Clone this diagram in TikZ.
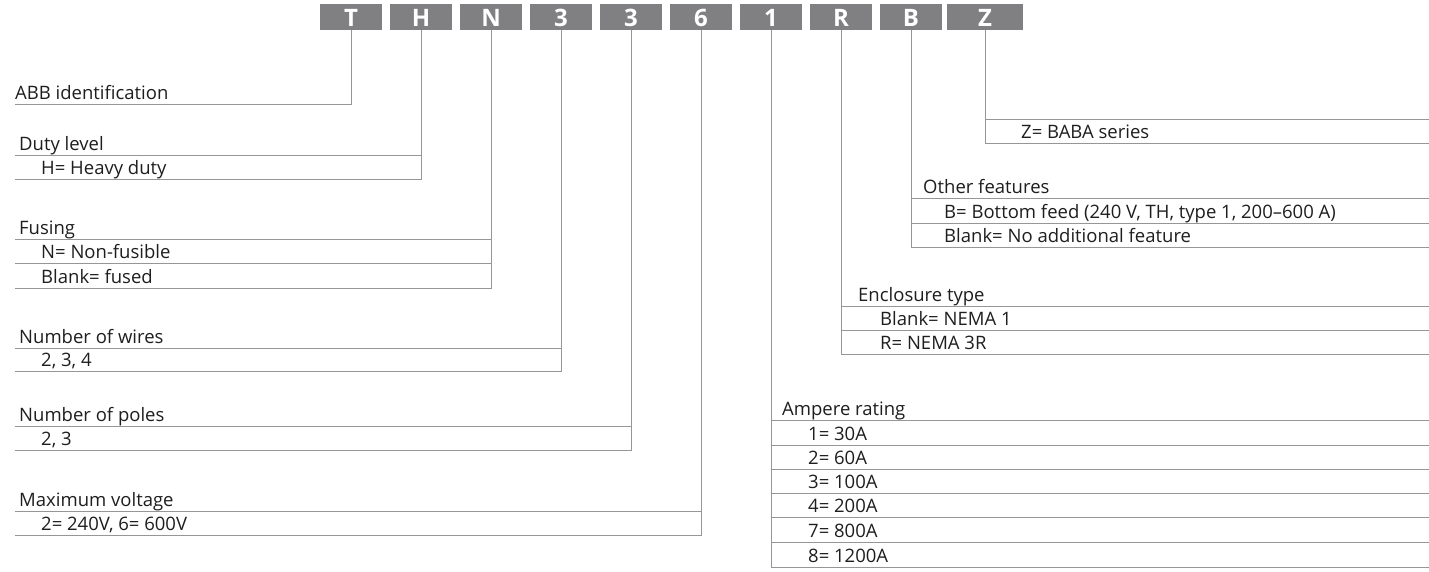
\documentclass[tikz,border=0pt]{standalone}
\usepackage{fontspec}
\setmainfont{Open Sans}
\definecolor{codegray}{RGB}{128,128,131}
\definecolor{rulegray}{RGB}{150,150,150}
\definecolor{inkgray}{RGB}{30,30,30}
\tikzset{
  code-box/.style={
    fill=codegray, text=white,
    font=\bfseries\fontsize{24}{24}\selectfont,
    minimum width=62pt, minimum height=26pt, inner sep=0pt,
    text height=20pt, text depth=0pt
  },
  code-rule/.style={draw=rulegray, line width=1pt},
  row-text/.style={
    anchor=base west, inner sep=0pt, text=inkgray,
    font=\fontsize{18.5}{18.5}\selectfont
  }
}

\begin{document}
\begin{tikzpicture}[x=1pt, y=-1pt]
  \useasboundingbox (0,0) rectangle (1429,571);
  % code letters
  \foreach \name/\ch/\x in {cT/T/351, cH/H/421, cN/N/491, cW/3/561, cP/3/631,
                            cV/6/701, cA/1/771, cR/R/841, cB/B/911} {
    \node[code-box] (\name) at (\x,16.5) {\ch};
  }
  \node[code-box, minimum width=76pt] (cZ) at (985,16.5) {Z};

  % left side: rows run from x=15 to the stem
  \coordinate (abb-end) at (15,104);
  \draw[code-rule] (cT.south) |- (abb-end);
  \node[row-text] (abb-head) at (15,99.5) {ABB identification};

  \coordinate (duty-end) at (15,179);
  \draw[code-rule] (cH.south) |- (duty-end);
  \draw[code-rule] (15,155) -- (15,155 -| cH.south);
  \node[row-text] (duty-head) at (19,150.5) {Duty level};
  \node[row-text] (duty-h) at (41,174.5) {H= Heavy duty};

  \coordinate (fuse-end) at (15,288);
  \draw[code-rule] (cN.south) |- (fuse-end);
  \foreach \y in {239,263} \draw[code-rule] (15,\y) -- (15,\y -| cN.south);
  \node[row-text] (fuse-head) at (19,234.5) {Fusing};
  \node[row-text] (fuse-n) at (41,258.5) {N= Non-fusible};
  \node[row-text] (fuse-blank) at (41,283.5) {Blank= fused};

  \coordinate (wire-end) at (15,371);
  \draw[code-rule] (cW.south) |- (wire-end);
  \draw[code-rule] (15,348) -- (15,348 -| cW.south);
  \node[row-text] (wire-head) at (19,343.5) {Number of wires};
  \node[row-text] (wire-val) at (41,366.5) {2, 3, 4};

  \coordinate (pole-end) at (15,450);
  \draw[code-rule] (cP.south) |- (pole-end);
  \draw[code-rule] (15,426) -- (15,426 -| cP.south);
  \node[row-text] (pole-head) at (19,421.5) {Number of poles};
  \node[row-text] (pole-val) at (41,445.5) {2, 3};

  \coordinate (volt-end) at (15,535);
  \draw[code-rule] (cV.south) |- (volt-end);
  \draw[code-rule] (15,511) -- (15,511 -| cV.south);
  \node[row-text] (volt-head) at (19,506.5) {Maximum voltage};
  \node[row-text] (volt-val) at (41,530.5) {2= 240V, 6= 600V};

  % right side: rows run from the stem to the edge
  \coordinate (series-end) at (1429,143);
  \draw[code-rule] (cZ.south) |- (series-end);
  \draw[code-rule] (1429,119 -| cZ.south) -- (1429,119);
  \node[row-text] (series-z) at (1021,138.5) {Z= BABA series};

  \coordinate (feat-end) at (1429,247);
  \draw[code-rule] (cB.south) |- (feat-end);
  \foreach \y in {198,223} \draw[code-rule] (1429,\y -| cB.south) -- (1429,\y);
  \node[row-text] (feat-head) at (923,193.5) {Other features};
  \node[row-text] (feat-b) at (944,218.5) {B= Bottom feed (240 V, TH, type 1, 200–600 A)};
  \node[row-text] (feat-blank) at (944,242.5) {Blank= No additional feature};

  \coordinate (encl-end) at (1429,354);
  \draw[code-rule] (cR.south) |- (encl-end);
  \foreach \y in {306,330} \draw[code-rule] (1429,\y -| cR.south) -- (1429,\y);
  \node[row-text] (encl-head) at (858,301.5) {Enclosure type};
  \node[row-text] (encl-blank) at (880,325.5) {Blank= NEMA 1};
  \node[row-text] (encl-r) at (880,349.5) {R= NEMA 3R};

  \coordinate (amp-end) at (1429,567);
  \draw[code-rule] (cA.south) |- (amp-end);
  \foreach \y in {420,445,469,493,517,542} \draw[code-rule] (1429,\y -| cA.south) -- (1429,\y);
  \node[row-text] (amp-head) at (782,415.5) {Ampere rating};
  \foreach \y/\txt [count=\i] in {445/1= 30A, 469/2= 60A, 493/3= 100A,
                                  517/4= 200A, 542/7= 800A, 567/8= 1200A} {
    \node[row-text] (amp-\i) at (808,\y-4.5) {\txt};
  }
\end{tikzpicture}
\end{document}
